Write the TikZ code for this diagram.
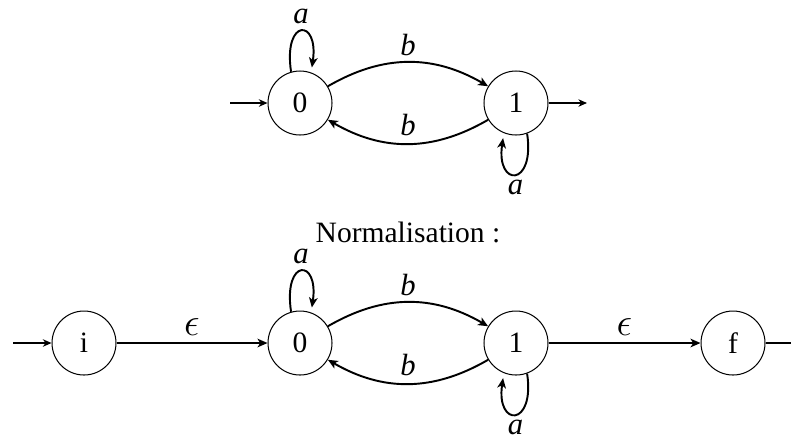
\documentclass[tikz,border=0pt]{standalone}
\usepackage{fontspec}
\setmainfont{Liberation Serif}
\usetikzlibrary{arrows.meta}
\newlength{\ux}\setlength{\ux}{0.44pt}
\begin{document}
\begin{tikzpicture}[x=\ux,y=-\ux,
  state/.style={circle,draw,line width=0.45pt,minimum size=64\ux,inner sep=0pt,font=\fontsize{13}{15}\selectfont},
  edge/.style={line width=0.85pt,-{Stealth[length=4.4pt,width=3.8pt,inset=1.2pt]}},
  loopedge/.style={edge,shorten >=5\ux},
  io/.style={line width=0.55pt,-{Stealth[length=3.8pt,width=3.3pt,inset=1.2pt]}},
  lbl/.style={inner sep=0pt,font=\fontsize{13.5}{15}\selectfont\itshape},
  epslbl/.style={inner sep=0pt,font=\fontsize{16}{18}\selectfont}]
\useasboundingbox (0,0) rectangle (791,435);
% top automaton
\node[state] (t0) at (300,103) {0};
\node[state] (t1) at (516,103) {1};
\coordinate (tin) at (230,103);
\coordinate (tout) at (587,103);
\draw[io] (tin) -- (t0);
\draw[io] (t1) -- (tout);
\draw[loopedge] (t0.106) .. controls +(-8,-54) and +(8,-54) .. (t0.70) node[lbl,midway,yshift=15\ux] {a};
\draw[loopedge] (t1.-70) .. controls +(8,54) and +(-8,54) .. (t1.-112) node[lbl,midway,yshift=-14\ux] {a};
\draw[edge] (t0.31) .. controls +(55,-32) and +(-55,-32) .. (t1.149) node[lbl,midway,yshift=17\ux] {b};
\draw[edge] (t1.211) .. controls +(-55,32) and +(55,32) .. (t0.329) node[lbl,midway,yshift=19\ux] {b};
% title
\node[anchor=base,font=\fontsize{13}{15}\selectfont] (title) at (408,242) {Normalisation :};
% bottom automaton
\node[state] (ni) at (84,343) {i};
\node[state] (n0) at (300,343) {0};
\node[state] (n1) at (516,343) {1};
\node[state] (nf) at (733,343) {f};
\coordinate (bin) at (13,343);
\coordinate (bout) at (791,343);
\draw[io] (bin) -- (ni);
\draw[line width=0.55pt] (nf) -- (bout);
\draw[edge] (ni) -- (n0) node[epslbl,midway,yshift=16\ux] {$\epsilon$};
\draw[edge] (n1) -- (nf) node[epslbl,midway,yshift=16\ux] {$\epsilon$};
\draw[loopedge] (n0.106) .. controls +(-8,-54) and +(8,-54) .. (n0.70) node[lbl,midway,yshift=15\ux] {a};
\draw[loopedge] (n1.-70) .. controls +(8,54) and +(-8,54) .. (n1.-112) node[lbl,midway,yshift=-14\ux] {a};
\draw[edge] (n0.31) .. controls +(55,-32) and +(-55,-32) .. (n1.149) node[lbl,midway,yshift=17\ux] {b};
\draw[edge] (n1.211) .. controls +(-55,32) and +(55,32) .. (n0.329) node[lbl,midway,yshift=19\ux] {b};
\end{tikzpicture}
\end{document}
